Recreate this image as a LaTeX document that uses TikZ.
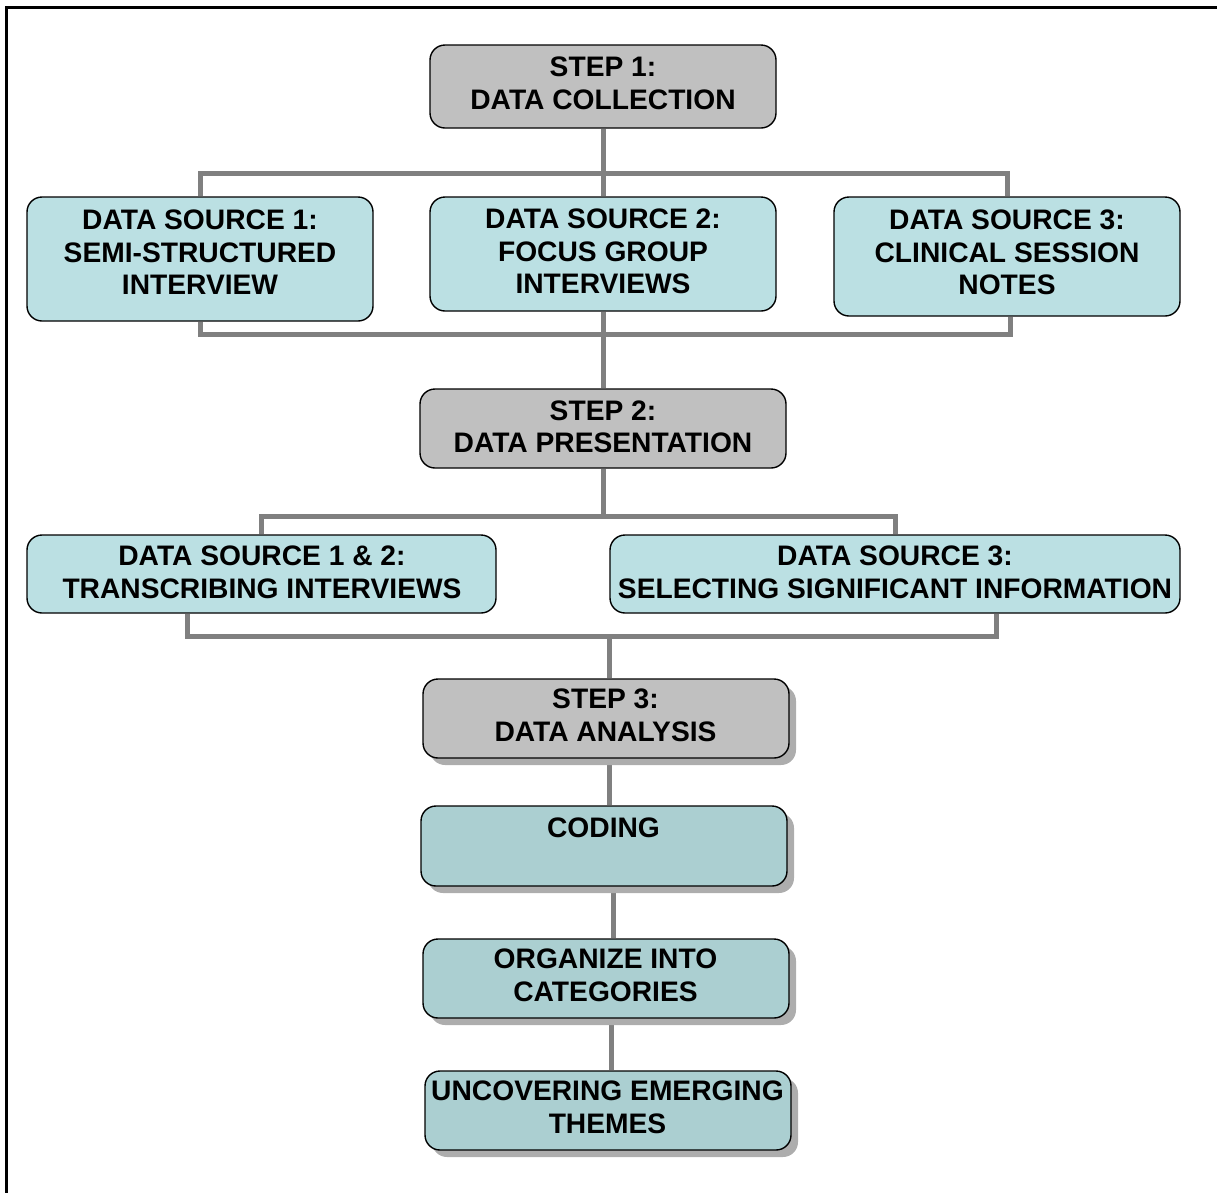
\documentclass[tikz,border=0pt]{standalone}
\usepackage{fontspec}
\setmainfont{Liberation Sans}
\usetikzlibrary{shadows,backgrounds}
\definecolor{stepgray}{HTML}{C0C0C0}
\definecolor{srccyan}{HTML}{BBE0E3}
\definecolor{anateal}{HTML}{ABCFD1}
\definecolor{linegray}{HTML}{808080}
\tikzset{
  box/.style={draw=black, line width=1.4pt, rounded corners=15pt, inner sep=0pt},
  stepbox/.style={box, fill=stepgray},
  srcbox/.style={box, fill=srccyan},
  anabox/.style={box, fill=anateal},
  txt/.style={align=center, inner sep=0pt, font=\bfseries\fontsize{28.2}{32.5}\selectfont},
  shade/.style={drop shadow={shadow xshift=7pt, shadow yshift=-7pt, fill=black!32, opacity=1}},
  conn/.style={draw=linegray, line width=5pt},
}
\begin{document}
\begin{tikzpicture}[x=1pt,y=-1pt]
\useasboundingbox (0,0) rectangle (1217,1192);
\clip (0,0) rectangle (1217,1192);
% outer frame (runs off the right and bottom edges)
\draw[line width=2.6pt] (6.5,1300) -- (6.5,7.5) -- (1300,7.5);

% step 1 and its data sources
\node[stepbox, minimum width=346pt, minimum height=83pt] (s1) at (603,86.5) {};
\node[txt] (s1t) at (603,83.5) {STEP 1:\\DATA COLLECTION};
\node[srcbox, minimum width=346pt, minimum height=124pt] (ds1) at (200,259) {};
\node[txt] (ds1t) at (200,252.5) {DATA SOURCE 1:\\SEMI-STRUCTURED\\INTERVIEW};
\node[srcbox, minimum width=346pt, minimum height=114pt] (ds2) at (603,254) {};
\node[txt] (ds2t) at (603,251.5) {DATA SOURCE 2:\\FOCUS GROUP\\INTERVIEWS};
\node[srcbox, minimum width=346pt, minimum height=119pt] (ds3) at (1007,256.5) {};
\node[txt] (ds3t) at (1007,252.5) {DATA SOURCE 3:\\CLINICAL SESSION\\NOTES};

% step 2 and its tasks
\node[stepbox, minimum width=366pt, minimum height=79pt] (s2) at (603,428.5) {};
\node[txt] (s2t) at (603,427) {STEP 2:\\DATA PRESENTATION};
\node[srcbox, minimum width=469pt, minimum height=78pt] (ds12) at (261.5,574) {};
\node[txt] (ds12t) at (262,572.5) {DATA SOURCE 1 \& 2:\\TRANSCRIBING INTERVIEWS};
\node[srcbox, minimum width=570pt, minimum height=78pt] (ds3b) at (895,574) {};
\node[txt] (ds3bt) at (895,572.5) {DATA SOURCE 3:\\SELECTING SIGNIFICANT INFORMATION};

% step 3 and the analysis chain
\node[stepbox, shade, minimum width=366pt, minimum height=79pt] (s3) at (606,718.5) {};
\node[txt] (s3t) at (605.5,715.5) {STEP 3:\\DATA ANALYSIS};
\node[anabox, shade, minimum width=366pt, minimum height=80pt] (cod) at (604,846) {};
\node[txt] (codt) at (603.5,828) {CODING};
\node[anabox, shade, minimum width=366pt, minimum height=79pt] (org) at (606,978.5) {};
\node[txt] (orgt) at (605.5,975.5) {ORGANIZE INTO\\CATEGORIES};
\node[anabox, shade, minimum width=366pt, minimum height=79pt] (unc) at (608,1110.5) {};
\node[txt] (unct) at (607.5,1107.5) {UNCOVERING EMERGING\\THEMES};

% bus levels
\coordinate (b1) at (603,173);
\coordinate (b2) at (603,334);
\coordinate (b3) at (603,516);
\coordinate (l4) at (187,636);
\coordinate (r4) at (996,636);
\coordinate (b4) at (609,636);

\begin{pgfonlayer}{background}
  \draw[conn] (s1.south) -- (ds2.north);
  \draw[conn] (ds1.north) |- (b1) -| (ds3.north);
  \draw[conn] (ds1.south) |- (b2) -| ([xshift=3pt]ds3.south);
  \draw[conn] (ds2.south) -- (s2.north);
  \draw[conn] (s2.south) -- (b3);
  \draw[conn] (ds12.north) |- (b3) -| (ds3b.north);
  \draw[conn] (ds12.south -| l4) -- (l4) -- (r4) -- (ds3b.south -| r4);
  \draw[conn] (b4) -- (b4 |- s3.north);
  \draw[conn] ([xshift=3pt]s3.south) -- ([xshift=3pt]s3.south |- cod.north);
  \draw[conn] ([xshift=9pt]cod.south) -- ([xshift=9pt]cod.south |- org.north);
  \draw[conn] ([xshift=5pt]org.south) -- ([xshift=5pt]org.south |- unc.north);
\end{pgfonlayer}
\end{tikzpicture}
\end{document}
